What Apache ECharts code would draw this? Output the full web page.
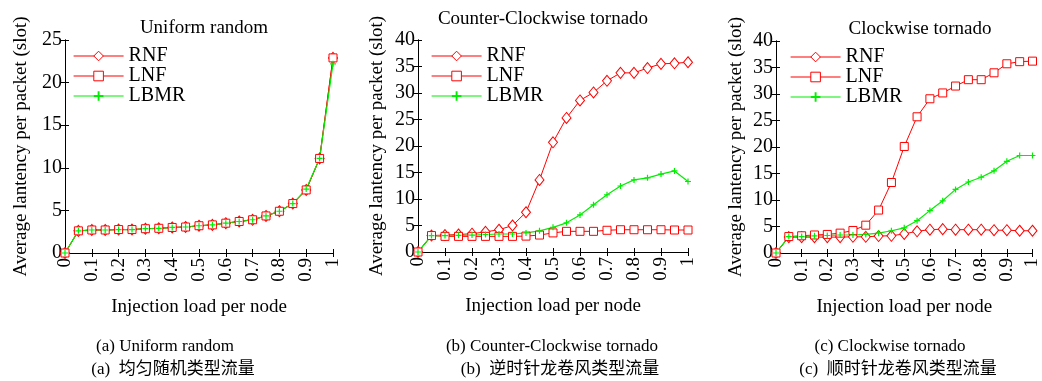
<!DOCTYPE html>
<html>
<head>
<meta charset="utf-8">
<script src="https://cdn.jsdelivr.net/npm/echarts@6/dist/echarts.min.js"></script>
<style>
html, body { margin: 0; padding: 0; background: #fff; }
#chart { width: 1042px; height: 381px; }
</style>
</head>
<body>
<div id="chart"></div>
<script>
// injection load per node (x values)
const loads = [0, 0.05, 0.1, 0.15, 0.2, 0.25, 0.3, 0.35, 0.4, 0.45, 0.5, 0.55, 0.6, 0.65, 0.7, 0.75, 0.8, 0.85, 0.9, 0.95, 1]

// (a) uniform random
const uniRNF = [0, 2.6, 2.7, 2.7, 2.75, 2.75, 2.85, 2.9, 3.0, 3.05, 3.2, 3.3, 3.5, 3.7, 3.9, 4.35, 4.9, 5.8, 7.4, 11.1, 22.9]
const uniLNF = [0, 2.6, 2.7, 2.7, 2.75, 2.75, 2.85, 2.9, 3.0, 3.05, 3.2, 3.3, 3.5, 3.7, 3.9, 4.35, 4.9, 5.8, 7.4, 11.1, 22.9]
const uniLBMR = [0, 2.6, 2.7, 2.7, 2.75, 2.75, 2.85, 2.9, 3.0, 3.05, 3.2, 3.3, 3.5, 3.7, 3.9, 4.35, 4.9, 5.8, 7.5, 11.1, 22.2]

// (b) counter-clockwise tornado
const ccwRNF = [0, 3.1, 3.2, 3.3, 3.45, 3.8, 4.2, 5.0, 7.5, 13.6, 20.7, 25.3, 28.6, 30.1, 32.3, 33.8, 33.8, 34.7, 35.5, 35.6, 35.8]
const ccwLNF = [0, 3.1, 2.95, 2.95, 2.95, 2.95, 2.95, 2.95, 3.0, 3.2, 3.6, 3.9, 3.9, 3.9, 4.1, 4.2, 4.2, 4.2, 4.2, 4.15, 4.15]
const ccwLBMR = [0, 3.1, 3.1, 3.15, 3.2, 3.3, 3.4, 3.4, 3.6, 4.0, 4.65, 5.5, 7.0, 8.9, 10.8, 12.45, 13.6, 14.0, 14.7, 15.3, 13.3]

// (c) clockwise tornado
const cwRNF = [0, 3.0, 3.0, 3.0, 3.0, 3.0, 3.05, 3.05, 3.2, 3.25, 3.6, 4.1, 4.4, 4.5, 4.4, 4.4, 4.4, 4.3, 4.3, 4.2, 4.2]
const cwLNF = [0, 3.1, 3.25, 3.4, 3.5, 3.75, 4.25, 5.25, 8.1, 13.3, 20.1, 25.7, 29.1, 30.2, 31.5, 32.7, 32.7, 34.0, 35.7, 36.1, 36.2]
const cwLBMR = [0, 3.1, 3.1, 3.25, 3.3, 3.4, 3.4, 3.5, 3.75, 4.2, 4.75, 6.1, 8.0, 9.85, 12.0, 13.4, 14.3, 15.5, 17.3, 18.4, 18.4]

const seriesNames = ['RNF', 'LNF', 'LBMR']
const panelTitles = ['Uniform random', 'Counter-Clockwise tornado', 'Clockwise tornado']
const captionsEn = ['(a) Uniform random', '(b) Counter-Clockwise tornado', '(c) Clockwise tornado']
const captionsZh = ['(a)  均匀随机类型流量', '(b)  逆时针龙卷风类型流量', '(c)  顺时针龙卷风类型流量']
const yMax = [25, 40, 40]

const panels = [
  [uniRNF, uniLNF, uniLBMR],
  [ccwRNF, ccwLNF, ccwLBMR],
  [cwRNF, cwLNF, cwLBMR],
]

const FONT = '"Liberation Serif", "Times New Roman", serif'
const RED = '#ff0000'
const GREEN = '#00ee00'
const PLUS = 'path://M4,0H6V4H10V6H6V10H4V6H0V4H4Z'

const grids = [
  { left: 65, top: 40, width: 268, height: 213 },
  { left: 418, top: 40, width: 270, height: 212 },
  { left: 776, top: 41, width: 269, height: 212 },
]
const titlePos = [[199, 14], [538, 5], [915, 15]]
const legendPos = [[73, 46], [431, 46], [790, 47]]
const yNameGap = [34, 31, 30]
const captionX = [165, 552, 890]

const chart = echarts.init(document.getElementById('chart'))

const xAxes = []
const yAxes = []
const series = []

grids.forEach((g, i) => {
  const tickInside = { show: true, inside: true, length: 4, lineStyle: { color: '#000' } }
  xAxes.push({
    gridIndex: i, type: 'value', min: 0, max: 1, interval: 0.1,
    name: 'Injection load per node', nameLocation: 'middle', nameGap: 45,
    nameTextStyle: { fontFamily: FONT, fontSize: 19, color: '#000' },
    axisLine: { show: true, lineStyle: { color: '#000', width: 1 } },
    axisTick: tickInside,
    splitLine: { show: false },
    axisLabel: {
      rotate: 90, margin: 5, fontFamily: FONT, fontSize: 19, color: '#000',
      formatter: (v) => String(Math.round(v * 10) / 10),
    },
  })
  xAxes.push({
    gridIndex: i, type: 'value', min: 0, max: 1, interval: 0.1, position: 'top',
    axisLine: { show: true, lineStyle: { color: '#000', width: 1 } },
    axisTick: tickInside, axisLabel: { show: false }, splitLine: { show: false },
  })
  yAxes.push({
    gridIndex: i, type: 'value', min: 0, max: yMax[i], interval: 5,
    name: 'Average lantency per packet (slot)', nameLocation: 'middle', nameGap: yNameGap[i],
    nameTextStyle: { fontFamily: FONT, fontSize: 19, color: '#000' },
    axisLine: { show: true, lineStyle: { color: '#000', width: 1 } },
    axisTick: tickInside,
    splitLine: { show: false },
    axisLabel: { margin: 3, fontFamily: FONT, fontSize: 20, color: '#000' },
  })
  yAxes.push({
    gridIndex: i, type: 'value', min: 0, max: yMax[i], interval: 5, position: 'right',
    axisLine: { show: true, lineStyle: { color: '#000', width: 1 } },
    axisTick: tickInside, axisLabel: { show: false }, splitLine: { show: false },
  })

  const [rnf, lnf, lbmr] = panels[i]
  const pair = (arr) => arr.map((v, k) => [loads[k], v])
  series.push({
    name: 'RNF', type: 'line', xAxisIndex: i * 2, yAxisIndex: i * 2, data: pair(rnf),
    symbol: 'diamond', symbolSize: [9, 11],
    lineStyle: { color: RED, width: 1 },
    itemStyle: { color: '#fff', borderColor: RED, borderWidth: 1 },
  })
  series.push({
    name: 'LNF', type: 'line', xAxisIndex: i * 2, yAxisIndex: i * 2, data: pair(lnf),
    symbol: 'rect', symbolSize: 8,
    lineStyle: { color: RED, width: 1 },
    itemStyle: { color: '#fff', borderColor: RED, borderWidth: 1 },
  })
  series.push({
    name: 'LBMR', type: 'line', xAxisIndex: i * 2, yAxisIndex: i * 2, data: pair(lbmr),
    symbol: PLUS, symbolSize: 6,
    lineStyle: { color: GREEN, width: 1.2 },
    itemStyle: { color: GREEN },
  })
})

chart.setOption({
  animation: false,
  backgroundColor: '#fff',
  grid: grids,
  xAxis: xAxes,
  yAxis: yAxes,
  title: panelTitles.map((t, i) => ({
    text: t, left: titlePos[i][0], top: titlePos[i][1], textAlign: 'center',
    textStyle: { fontFamily: FONT, fontSize: 19, fontWeight: 'normal', color: '#000' },
  })),
  legend: legendPos.map((p) => ({
    data: seriesNames, orient: 'vertical', left: p[0], top: p[1],
    itemWidth: 50, itemHeight: 12, itemGap: 0, padding: 0,
    selectedMode: false,
    itemStyle: { borderWidth: 1 },
    lineStyle: { width: 1.2 },
    textStyle: { fontFamily: FONT, fontSize: 20, color: '#000', lineHeight: 19.5 },
  })),
  graphic: captionX.flatMap((x, i) => [
    {
      type: 'text', x: x, y: 347,
      style: { text: captionsEn[i], font: '17px ' + FONT, fill: '#000', align: 'center', verticalAlign: 'middle' },
    },
    {
      type: 'text', x: x + 8, y: 370,
      style: { text: captionsZh[i], font: '17px "Liberation Serif", "Noto Sans CJK SC", serif', fill: '#000', align: 'center', verticalAlign: 'middle' },
    },
  ]),
  series: series,
})

window.addEventListener('resize', () => chart.resize())
</script>
</body>
</html>
